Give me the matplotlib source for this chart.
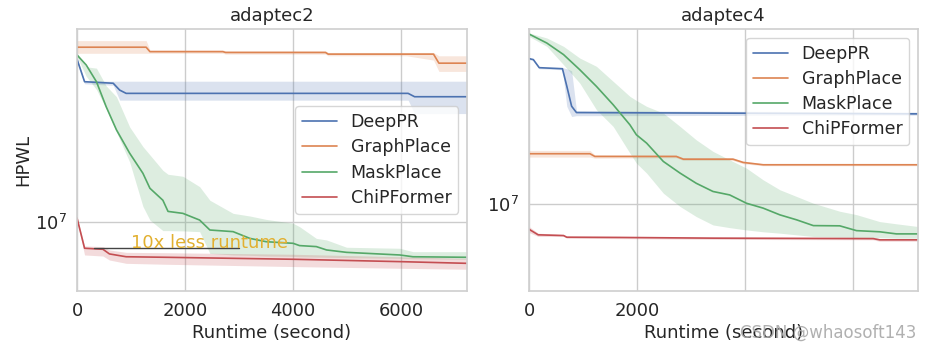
import matplotlib
matplotlib.use("Agg")
from matplotlib import pyplot as plt
from matplotlib.ticker import NullFormatter, FixedLocator
import numpy as np
import seaborn as sns

# HPWL values are in millions

# ---- adaptec2 ----
A2_DEEPPR_T = [0, 140, 670, 790, 910, 6130, 6250, 7220]
A2_DEEPPR_MEAN = [32.2, 27.4, 27.1, 25.8, 25.2, 25.2, 24.6, 24.6]
A2_DEEPPR_HI = [32.6, 27.6, 27.5, 27.5, 27.5, 27.5, 27.5, 27.5]
A2_DEEPPR_LO = [31.8, 27.0, 26.7, 24.0, 24.0, 24.0, 21.8, 21.8]

A2_GRAPH_T = [0, 1280, 1350, 2700, 2750, 4600, 4650, 6100, 6600, 6700, 7220]
A2_GRAPH_MEAN = [35.1, 35.1, 34.0, 34.0, 33.8, 33.8, 33.4, 33.4, 33.4, 31.3, 31.3]
A2_GRAPH_HI = [36.8, 36.8, 34.4, 34.4, 34.2, 34.2, 33.8, 33.8, 33.8, 33.0, 33.0]
A2_GRAPH_LO = [33.6, 33.6, 33.6, 33.6, 33.4, 33.4, 33.0, 33.0, 32.0, 29.5, 29.5]

A2_MASK_T = [0, 170, 360, 540, 730, 975, 1220, 1350, 1590, 1685, 1960, 2270,
             2460, 2890, 3200, 3500, 4000, 4120, 4430, 4620, 4990, 5975, 6220, 7220]
A2_MASK_MEAN = [33.2, 30.9, 27.4, 22.9, 19.4, 16.4, 14.2, 12.75, 11.7, 10.8, 10.65, 10.15,
                9.45, 9.34, 8.90, 8.69, 8.59, 8.45, 8.39, 8.19, 8.05, 7.90, 7.80, 7.77]
A2_MASK_HI = [33.6, 30.5, 30.2, 26.6, 24.6, 19.8, 17.2, 16.2, 14.5, 14.1, 13.9, 12.9,
              11.7, 10.65, 10.45, 10.2, 9.92, 9.68, 8.90, 8.80, 8.35, 8.29, 8.09, 8.09]
A2_MASK_LO = [32.8, 28.5, 25.9, 22.6, 19.1, 15.4, 11.2, 10.15, 9.41, 9.41, 9.39, 9.34,
              7.99, 7.90, 7.88, 7.84, 7.82, 7.80, 7.78, 7.77, 7.75, 7.71, 7.69, 7.66]

A2_CHIP_T = [0, 140, 480, 600, 910, 1650, 4000, 6000, 7220]
A2_CHIP_MEAN = [10.3, 8.29, 8.23, 7.96, 7.80, 7.77, 7.66, 7.53, 7.44]
A2_CHIP_HI = [10.4, 8.43, 8.39, 8.19, 8.05, 8.03, 7.94, 7.80, 7.71]
A2_CHIP_LO = [10.15, 7.90, 7.84, 7.62, 7.44, 7.39, 7.27, 7.18, 7.13]

# ---- adaptec4 ----
A4_DEEPPR_T = [0, 80, 190, 620, 700, 790, 880, 7210]
A4_DEEPPR_MEAN = [20.5, 20.4, 19.6, 19.5, 17.9, 16.2, 15.7, 15.6]
A4_DEEPPR_HI = [20.5, 20.5, 19.6, 19.6, 19.5, 19.3, 15.85, 15.74]
A4_DEEPPR_LO = [20.4, 20.3, 19.5, 19.4, 16.2, 15.4, 15.46, 15.5]

A4_GRAPH_T = [0, 1130, 1220, 2730, 2860, 3780, 3970, 4340, 7210]
A4_GRAPH_MEAN = [12.81, 12.81, 12.64, 12.64, 12.47, 12.47, 12.27, 12.13, 12.13]
A4_GRAPH_HI = [13.02, 13.02, 12.74, 12.72, 12.56, 12.56, 12.35, 12.19, 12.19]
A4_GRAPH_LO = [12.60, 12.60, 12.53, 12.56, 12.39, 12.39, 12.19, 12.07, 12.07]

A4_MASK_T = [0, 330, 640, 940, 1250, 1560, 1870, 1990, 2180, 2490, 2800, 3100,
             3410, 3720, 4030, 4340, 4650, 4960, 5270, 5760, 6070, 6500, 6810, 7210]
A4_MASK_MEAN = [23.15, 22.14, 20.91, 19.41, 17.87, 16.32, 14.78, 14.07, 13.50, 12.33, 11.64, 11.07,
                10.63, 10.45, 10.03, 9.79, 9.47, 9.24, 8.98, 8.97, 8.76, 8.71, 8.62, 8.62]
A4_MASK_HI = [23.27, 22.70, 21.78, 20.56, 19.73, 18.32, 17.01, 16.67, 16.19, 15.66, 14.66, 13.72,
              12.96, 12.43, 11.93, 11.26, 10.72, 10.37, 10.03, 9.64, 9.48, 9.16, 9.06, 8.94]
A4_MASK_LO = [22.88, 21.78, 19.89, 18.17, 15.92, 14.66, 12.85, 12.23, 11.64, 10.54, 9.87, 9.39,
              9.01, 8.89, 8.79, 8.71, 8.65, 8.58, 8.51, 8.48, 8.47, 8.46, 8.44, 8.44]

A4_CHIP_T = [0, 170, 640, 700, 1680, 3420, 6380, 6500, 7210]
A4_CHIP_MEAN = [8.82, 8.58, 8.55, 8.48, 8.47, 8.44, 8.42, 8.37, 8.37]
A4_CHIP_HI = [8.94, 8.65, 8.59, 8.52, 8.51, 8.48, 8.48, 8.42, 8.42]
A4_CHIP_LO = [8.68, 8.51, 8.51, 8.44, 8.42, 8.39, 8.37, 8.31, 8.31]

METHODS = ["DeepPR", "GraphPlace", "MaskPlace", "ChiPFormer"]
X_TICKS = [0, 2000, 4000, 6000]

sns.set_theme(style="whitegrid", palette="deep")
plt.rcParams["font.family"] = ["DejaVu Sans"]
colors = sns.color_palette("deep")


def draw(ax, curves, xmax, ylim):
    '''Plot mean lines with shaded min/max bands on a log axis.'''
    for i, (name, (t, mean, lo, hi)) in enumerate(zip(METHODS, curves)):
        t = np.array(t)
        ax.fill_between(t, np.array(lo) * 1e6, np.array(hi) * 1e6,
                        color=colors[i], alpha=0.2, lw=0)
        ax.plot(t, np.array(mean) * 1e6, color=colors[i], lw=1.2, label=name)
    ax.set_yscale("log")
    ax.set_xlim(0, xmax)
    ax.set_ylim(*ylim)
    ax.yaxis.set_major_locator(FixedLocator([1e7]))
    ax.yaxis.set_minor_formatter(NullFormatter())
    ax.yaxis.set_minor_locator(FixedLocator([]))
    ax.set_xticks(X_TICKS)
    ax.tick_params(axis="x", labelsize=13, pad=2)
    ax.tick_params(axis="y", labelsize=13, pad=1)
    ax.set_xlabel("Runtime (second)", fontsize=13, labelpad=3)
    for s in ax.spines.values():
        s.set_color("#d0d0d0")


fig = plt.figure(figsize=(9.3, 3.52), dpi=100)
ax1 = fig.add_axes([77 / 930, 61 / 352, 390 / 930, 262 / 352])
ax2 = fig.add_axes([529 / 930, 61 / 352, 389 / 930, 262 / 352])

draw(ax1, [
    (A2_DEEPPR_T, A2_DEEPPR_MEAN, A2_DEEPPR_LO, A2_DEEPPR_HI),
    (A2_GRAPH_T, A2_GRAPH_MEAN, A2_GRAPH_LO, A2_GRAPH_HI),
    (A2_MASK_T, A2_MASK_MEAN, A2_MASK_LO, A2_MASK_HI),
    (A2_CHIP_T, A2_CHIP_MEAN, A2_CHIP_LO, A2_CHIP_HI),
], 7220, (6.1e6, 4.0e7))
draw(ax2, [
    (A4_DEEPPR_T, A4_DEEPPR_MEAN, A4_DEEPPR_LO, A4_DEEPPR_HI),
    (A4_GRAPH_T, A4_GRAPH_MEAN, A4_GRAPH_LO, A4_GRAPH_HI),
    (A4_MASK_T, A4_MASK_MEAN, A4_MASK_LO, A4_MASK_HI),
    (A4_CHIP_T, A4_CHIP_MEAN, A4_CHIP_LO, A4_CHIP_HI),
], 7210, (6.5e6, 2.373e7))

ax1.set_title("adaptec2", fontsize=13, pad=6)
ax2.set_title("adaptec4", fontsize=13, pad=6)
ax1.set_ylabel("HPWL", fontsize=13, labelpad=2)
ax2.set_xticklabels(["0", "2000", "", ""])

# annotation on adaptec2
ax1.plot([310, 3000], [8.29e6, 8.29e6], color="#444444", lw=1.0)
ax1.text(1000, 8.6e6, "10x less runtume", color="#E2B030", fontsize=13,
         ha="left", va="center")

ax1.legend(loc="center right", fontsize=12.5, handlelength=2.0, labelspacing=0.42)
ax2.legend(loc="upper right", fontsize=12.5, handlelength=2.0, labelspacing=0.42)

fig.text(0.985, 0.055, "CSDN @whaosoft143", color="#a8a8a8", fontsize=12,
         ha="right", va="center", alpha=0.9)

fig.savefig("out.png", dpi=100)
